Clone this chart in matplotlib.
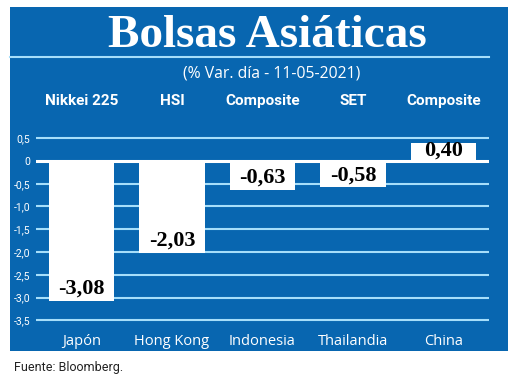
import matplotlib
matplotlib.use("Agg")
import matplotlib.pyplot as plt
from matplotlib.patches import Rectangle

paises = ["Japón", "Hong Kong", "Indonesia", "Thailandia", "China"]
indices = ["Nikkei 225", "HSI", "Composite", "SET", "Composite"]
variacion = [-3.08, -2.03, -0.63, -0.58, 0.40]
yticks = [0.5, 0, -0.5, -1.0, -1.5, -2.0, -2.5, -3.0, -3.5]
ytick_labels = ["0,5", "0", "-0,5", "-1,0", "-1,5", "-2,0", "-2,5", "-3,0", "-3,5"]

azul = "#0866b0"
linea = "#a6defa"

W, H = 520, 379
fig = plt.figure(figsize=(5.2, 3.79), dpi=100)
fig.patch.set_facecolor("white")

# panel azul
fondo = Rectangle((10 / W, 1 - 351 / H), 498 / W, 344 / H,
                  transform=fig.transFigure, facecolor=azul, edgecolor="none")
fondo.set_zorder(-5)
fig.add_artist(fondo)
fig.add_artist(plt.Line2D([10 / W, 489 / W], [1 - 57 / H, 1 - 57 / H],
                          transform=fig.transFigure, color=linea, lw=1.5))

fig.text(267 / W, 1 - 36 / H, "Bolsas Asiáticas", color="white",
         fontsize=34, fontweight="bold", family="Liberation Serif",
         ha="center", va="center")
fig.text(272 / W, 1 - 73 / H, "(% Var. día - 11-05-2021)", color="white",
         fontsize=11.3, family="Open Sans", ha="center", va="center")
fig.text(14 / W, 1 - 367 / H, "Fuente: Bloomberg.", color="#222222",
         fontsize=9, family="Roboto", ha="left", va="center")

# ejes
px_unit = 45.5
ylo, yhi = -3.55, 0.55
top_px = 161 - yhi * px_unit
bot_px = 161 - ylo * px_unit
ax = fig.add_axes([36 / W, 1 - bot_px / H, 453 / W, (bot_px - top_px) / H])
ax.set_zorder(2)
ax.set_facecolor("none")
ax.set_xlim(-0.5, 4.5)
ax.set_ylim(ylo, yhi)
for s in ax.spines.values():
    s.set_visible(False)

for t in yticks:
    ax.axhline(t, color="white" if t == 0 else linea,
               lw=2.2 if t == 0 else 1.5, zorder=1)

x = list(range(len(paises)))
ax.bar(x, variacion, width=0.72, color="white", zorder=2)

for xi, v in zip(x, variacion):
    txt = f"{v:.2f}".replace(".", ",")
    if v < 0:
        ax.text(xi, v + 0.05, txt, ha="center", va="bottom", fontsize=16,
                fontweight="bold", family="Liberation Serif", color="black", zorder=3)
    else:
        ax.text(xi, v / 2 + 0.03, txt, ha="center", va="center", fontsize=16,
                fontweight="bold", family="Liberation Serif", color="black", zorder=3)

ax.set_yticks(yticks)
ax.set_yticklabels(ytick_labels, family="Roboto", fontsize=7.5,
                   color="white")
ax.tick_params(axis="y", length=0, pad=4)
ax.set_xticks(x)
ax.set_xticklabels(paises, family="Open Sans", fontsize=10.5, color="white")
ax.tick_params(axis="x", length=0, pad=8)

# nombres de índices arriba
for xi, nombre in zip(x, indices):
    ax.text(xi, 1.31, nombre, ha="center", va="center", fontsize=11,
            fontweight="bold", family="Roboto", color="white",
            clip_on=False)

fig.savefig("out.png", dpi=100, facecolor="white")
